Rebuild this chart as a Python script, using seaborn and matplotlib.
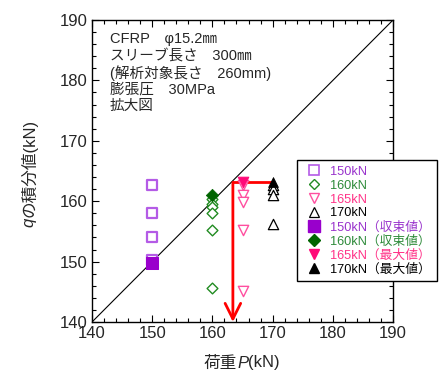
import numpy as np
import pandas as pd
import matplotlib
matplotlib.use("Agg")
import matplotlib.pyplot as plt
from matplotlib.ticker import MultipleLocator
from matplotlib.lines import Line2D
import seaborn as sns

# data
P150 = [150, 150, 150, 150]
Q150 = [162.7, 158.0, 154.0, 150.3]
P150_CONV = [150]
Q150_CONV = [149.8]

P160 = [160, 160, 160, 160, 160, 160]
Q160 = [160.4, 159.6, 159.1, 158.0, 155.3, 145.7]
P160_CONV = [160]
Q160_CONV = [161.0]

P165 = [165, 165, 165, 165, 165]
Q165 = [162.7, 161.0, 159.8, 155.2, 145.2]
P165_MAX = [165]
Q165_MAX = [163.1]

P170 = [170, 170, 170, 170]
Q170 = [162.7, 162.0, 161.1, 156.2]
P170_MAX = [170]
Q170_MAX = [163.2]

LIMIT_P = 163.4
LIMIT_Q = 163.1

LABELS = ["150kN", "160kN", "165kN", "170kN",
          "150kN（収束値）", "160kN（収束値）", "165kN（最大値）", "170kN（最大値）"]
NOTE = ["CFRP　φ15.2㎜", "スリーブ長さ　300㎜", "(解析対象長さ　260mm)",
        "膨張圧　30MPa", "拡大図"]
XLABEL = [("荷重", "normal"), ("P", "italic"), ("(kN)", "normal")]
YLABEL = [("q", "italic"), ("の積分値(kN)", "normal")]

C150, C150F, T150 = "#B45BE6", "#9900CC", "#9933CC"
C160, C160F, T160 = "#228B22", "#006400", "#2E8B3A"
C165, C165F, T165 = "#FF4FA0", "#FF0A78", "#FF3388"
C170, C170F, T170 = "#000000", "#000000", "#000000"

sns.set_style("ticks")
plt.rcParams["font.family"] = ["Liberation Sans", "Noto Sans CJK JP"]

fig = plt.figure(figsize=(4.43, 3.76), dpi=100)
ax = fig.add_axes([0.2077, 0.1436, 0.6795, 0.8032])

# y = x reference line
ax.plot([140, 190], [140, 190], color="black", lw=0.8, zorder=1)

# limit lines (red)
ax.plot([LIMIT_P, 170], [LIMIT_Q, LIMIT_Q], color="red", lw=2, zorder=2)
ax.annotate("", xy=(LIMIT_P, 140), xytext=(LIMIT_P, LIMIT_Q),
            arrowprops=dict(arrowstyle="->", color="red", lw=2, mutation_scale=28,
                            shrinkA=0, shrinkB=0), zorder=2)

def pts(p, q):
    return pd.DataFrame({"P": p, "q": q})

kw = dict(x="P", y="q", ax=ax, legend=False, zorder=3)
sns.scatterplot(data=pts(P150, Q150), marker="s", s=55, facecolor="white",
                edgecolor=C150, linewidth=1.6, **kw)
sns.scatterplot(data=pts(P160, Q160), marker="D", s=30, facecolor="white",
                edgecolor=C160, linewidth=1.0, **kw)
sns.scatterplot(data=pts(P165, Q165), marker="v", s=55, facecolor="white",
                edgecolor=C165, linewidth=1.0, **kw)
sns.scatterplot(data=pts(P170, Q170), marker="^", s=55, facecolor="white",
                edgecolor=C170, linewidth=0.9, **kw)
sns.scatterplot(data=pts(P150_CONV, Q150_CONV), marker="s", s=85, color=C150F,
                edgecolor=C150F, **kw)
sns.scatterplot(data=pts(P160_CONV, Q160_CONV), marker="D", s=40, color=C160F,
                edgecolor=C160F, **kw)
sns.scatterplot(data=pts(P165_MAX, Q165_MAX), marker="v", s=60, color=C165F,
                edgecolor=C165F, **kw)
sns.scatterplot(data=pts(P170_MAX, Q170_MAX), marker="^", s=50, color=C170F,
                edgecolor=C170F, **kw)

ax.set_xlim(140, 190)
ax.set_ylim(140, 190)
ax.xaxis.set_major_locator(MultipleLocator(10))
ax.yaxis.set_major_locator(MultipleLocator(10))
ax.xaxis.set_minor_locator(MultipleLocator(2))
ax.yaxis.set_minor_locator(MultipleLocator(2))
ax.tick_params(which="both", direction="in", top=True, right=True,
               labelsize=12, color="black", width=0.8)
ax.tick_params(which="major", length=5, pad=3)
ax.tick_params(which="minor", length=3)
ax.set_xlabel("")
ax.set_ylabel("")
for sp in ax.spines.values():
    sp.set_linewidth(1.0)
    sp.set_color("black")

ax.text(0.06, 0.96, "\n".join(NOTE), transform=ax.transAxes, fontsize=10.5,
        va="top", ha="left", linespacing=1.2)

handles = [
    Line2D([], [], ls="", marker="s", ms=7, mfc="white", mec=C150, mew=1.2),
    Line2D([], [], ls="", marker="D", ms=5, mfc="white", mec=C160, mew=1.0),
    Line2D([], [], ls="", marker="v", ms=6.5, mfc="white", mec=C165, mew=1.0),
    Line2D([], [], ls="", marker="^", ms=6.5, mfc="white", mec=C170, mew=0.9),
    Line2D([], [], ls="", marker="s", ms=8, mfc=C150F, mec=C150F),
    Line2D([], [], ls="", marker="D", ms=6, mfc=C160F, mec=C160F),
    Line2D([], [], ls="", marker="v", ms=7, mfc=C165F, mec=C165F),
    Line2D([], [], ls="", marker="^", ms=7, mfc=C170F, mec=C170F),
]
leg = ax.legend(handles, LABELS, loc="upper left", bbox_to_anchor=(0.670, 0.574),
                bbox_transform=fig.transFigure, borderaxespad=0, fontsize=9.2,
                frameon=True, fancybox=False, edgecolor="black", framealpha=1,
                labelspacing=0.14, handletextpad=0.35, handlelength=1.8,
                borderpad=0.45,
                labelcolor=[T150, T160, T165, T170, T150, T160, T165, T170])
leg.get_frame().set_linewidth(1.0)
leg.set_zorder(5)

# axis labels with italic symbols, built piece by piece
fig.canvas.draw()
rend = fig.canvas.get_renderer()
W, H = fig.bbox.width, fig.bbox.height


def run_text(parts, cx, cy, vertical):
    items = []
    for s, style in parts:
        t = fig.text(0, 0, s, fontsize=12, fontstyle=style,
                     rotation=90 if vertical else 0,
                     ha="left", va="center" if not vertical else "bottom")
        items.append(t)
    sizes = [t.get_window_extent(rend) for t in items]
    total = sum(b.height if vertical else b.width for b in sizes)
    pos = (cy if vertical else cx) - total / 2
    for t, b in zip(items, sizes):
        if vertical:
            t.set_ha("center")
            t.set_position((cx / W, pos / H))
            pos += b.height
        else:
            t.set_position((pos / W, cy / H))
            pos += b.width


run_text(XLABEL, 242, H - 363, vertical=False)
run_text(YLABEL, 29, H - 173, vertical=True)

fig.savefig("out.png", dpi=100)
